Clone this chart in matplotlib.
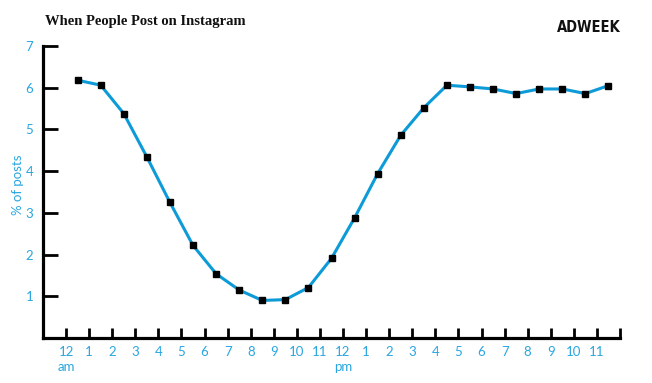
import matplotlib
matplotlib.use("Agg")
import matplotlib.pyplot as plt
import numpy as np

hours = ["12\nam", "1", "2", "3", "4", "5", "6", "7", "8", "9", "10", "11",
         "12\npm", "1", "2", "3", "4", "5", "6", "7", "8", "9", "10", "11"]
pct_posts = [6.18, 6.06, 5.38, 4.34, 3.25, 2.22, 1.54, 1.15, 0.90, 0.92, 1.21, 1.91,
             2.88, 3.94, 4.86, 5.52, 6.06, 6.02, 5.97, 5.86, 5.97, 5.97, 5.86, 6.05]
yticks = [1, 2, 3, 4, 5, 6, 7]

blue_line = "#0d9bd8"
blue_text = "#29a6e0"

fig = plt.figure(figsize=(6.52, 3.83), dpi=100)
W, H = 652, 383
left, right, top, bottom = 43, 620, 46, 338
ax = fig.add_axes([left / W, 1 - bottom / H, (right - left) / W, (bottom - top) / H])

x = np.arange(len(pct_posts)) + 0.5
ax.plot(x, pct_posts, color=blue_line, lw=2.2, marker="s", ms=4.5,
        mfc="black", mec="black", zorder=3, clip_on=False)

ax.set_xlim(-1, 24)
ax.set_ylim(0, 7)
ax.set_xticks(np.arange(0, 25))
ax.set_xticklabels(hours + [""])
ax.set_yticks(yticks)
ax.set_yticklabels([str(v) for v in yticks])

for s in ["top", "right"]:
    ax.spines[s].set_visible(False)
for s in ["left", "bottom"]:
    ax.spines[s].set_linewidth(2.3)
    ax.spines[s].set_color("black")
    ax.spines[s].set_capstyle("projecting")

ax.tick_params(axis="y", direction="in", length=11, width=2, color="black",
               labelcolor=blue_text, labelsize=9.5, pad=7)
ax.tick_params(axis="x", direction="in", length=7, width=2, color="black",
               labelcolor=blue_text, labelsize=9.5, pad=6)
for lab in ax.get_xticklabels() + ax.get_yticklabels():
    lab.set_family("Lato")
    lab.set_linespacing(1.3)

fig.text(18 / W, 1 - 185 / H, "% of posts", color=blue_text, fontsize=9.5,
         family="Lato", rotation=90, ha="center", va="center")

fig.text(45 / W, 1 - 22 / H, "When People Post on Instagram", fontsize=10.5,
         fontweight="bold", family=["Liberation Serif", "DejaVu Serif"],
         ha="left", va="center", color="#111111")
fig.text(621 / W, 1 - 28 / H, "ADWEEK", fontsize=10.5, fontweight="heavy",
         fontstretch="condensed", family="DejaVu Sans", ha="right", va="center",
         color="#111111")

fig.savefig("out.png", dpi=100)
